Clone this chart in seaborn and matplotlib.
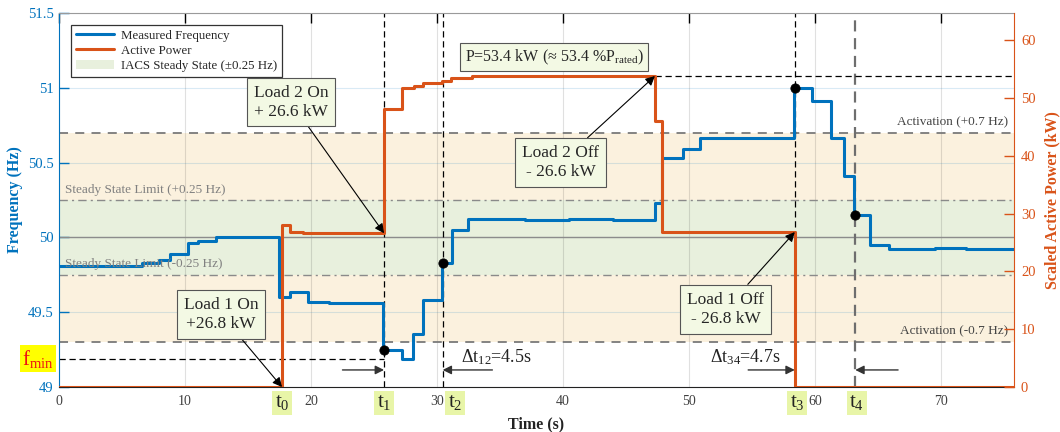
import numpy as np
import pandas as pd
import matplotlib
matplotlib.use("Agg")
import matplotlib.pyplot as plt
import matplotlib.transforms as mtransforms
import seaborn as sns
from matplotlib.lines import Line2D
from matplotlib.patches import Patch

# ---------------- data ----------------
freq_t = [0, 6.6, 7.9, 8.8, 10.2, 11.0, 12.5, 17.5, 18.3, 19.8, 21.4, 25.75, 27.2, 28.1, 28.9,
          30.4, 31.2, 32.5, 37.0, 40.5, 44.0, 47.3, 47.9, 49.5, 50.9, 58.35, 59.8, 61.3, 62.3,
          63.1, 64.4, 65.9, 69.5, 72.0, 75.8]
freq_hz = [49.81, 49.83, 49.85, 49.89, 49.96, 49.975, 50.005, 49.60, 49.635, 49.57, 49.56, 49.25,
           49.19, 49.355, 49.58, 49.83, 50.05, 50.12, 50.115, 50.12, 50.115, 50.23, 50.53, 50.59,
           50.665, 51.0, 50.915, 50.665, 50.41, 50.15, 49.95, 49.925, 49.93, 49.925, 49.925]

power_t = [0, 17.7, 18.3, 19.4, 21.0, 25.8, 27.2, 28.2, 28.9, 30.4, 31.1, 32.8, 47.3, 47.85, 58.4, 75.8]
power_kw = [0, 28.0, 26.9, 26.7, 26.6, 48.1, 51.7, 52.1, 52.6, 53.0, 53.5, 53.8, 46.0, 26.8, 0, 0]

event_t = [17.7, 25.8, 30.45, 58.4, 63.2]
event_labels = ["t$_0$", "t$_1$", "t$_2$", "t$_3$", "t$_4$"]
marker_t = [25.8, 30.45, 58.4, 63.2]
marker_hz = [49.25, 49.83, 51.0, 50.15]

f_nom = 50.0
steady_lim = 0.25
activation_lim = 0.7

x_ticks = [0, 10, 20, 30, 40, 50, 60, 70]
left_ticks = [49, 49.5, 50, 50.5, 51, 51.5]
left_tick_labels = ["49", "49.5", "50", "50.5", "51", "51.5"]
right_ticks = [0, 10, 20, 30, 40, 50, 60]

BLUE = "#0072BD"
ORANGE = "#D95319"
GREEN_BAND = "#E8F0DD"
ORANGE_BAND = "#FBF1DE"
BOX_FC = "#F3F9E4"
LIME = "#E8F5A8"

# ---------------- style ----------------
sns.set_style("white")
plt.rcParams["font.family"] = ["Liberation Serif", "DejaVu Serif"]
plt.rcParams["mathtext.fontset"] = "custom"
plt.rcParams["mathtext.rm"] = "Liberation Serif"
plt.rcParams["mathtext.it"] = "Liberation Serif:italic"

fig = plt.figure(figsize=(10.6, 4.32), dpi=100)
ax = fig.add_axes([59 / 1060, 45 / 432, 955 / 1060, 374 / 432])
ax2 = ax.twinx()
ax.set_axisbelow("line")

xmax = 75.8
ax.set_xlim(0, xmax)
ax.set_ylim(49, 51.5)
ax2.set_ylim(0, 64.7)

# bands
ax.axhspan(f_nom - activation_lim, f_nom + activation_lim, color=ORANGE_BAND, lw=0, zorder=0.3)
ax.axhspan(f_nom - steady_lim, f_nom + steady_lim, color=GREEN_BAND, lw=0, zorder=0.4)
ax.axhline(f_nom, color="#8c8c8c", lw=1.0, zorder=1.6)
for v in (f_nom + activation_lim, f_nom - activation_lim):
    ax.axhline(v, color="#7a7a7a", lw=1.3, ls=(0, (5, 4)), zorder=1.6)
for v in (f_nom + steady_lim, f_nom - steady_lim):
    ax.axhline(v, color="#8a8a8a", lw=1.0, ls=(0, (6, 3, 1.5, 3)), zorder=1.6)

# grid
ax.grid(True, axis="x", color="#000000", alpha=0.12, lw=0.8)
ax.grid(True, axis="y", color=BLUE, alpha=0.15, lw=0.8)

# event vertical lines
for t in event_t[1:4]:
    ax.axvline(t, color="k", lw=0.9, ls=(0, (5, 3)), zorder=2)
ax.axvline(event_t[4], color="#6e6e6e", lw=1.6, ls=(0, (5, 3)), zorder=2)

# fmin line
fmin = min(freq_hz)
ax.hlines(fmin, 0, event_t[1], color="k", lw=0.9, ls=(0, (5, 3)), zorder=2)

# frequency
sns.lineplot(x=freq_t, y=freq_hz, drawstyle="steps-post", color=BLUE, lw=2.2, ax=ax,
             legend=False, zorder=3)
sns.scatterplot(x=marker_t, y=marker_hz, color="k", s=45, edgecolor="k", ax=ax, zorder=6,
                legend=False)

# power
sns.lineplot(x=power_t, y=power_kw, drawstyle="steps-post", color=ORANGE, lw=2.2, ax=ax2,
             legend=False, zorder=3)
pmax = max(power_kw)
i_off = len(power_kw) - 1 - power_kw[::-1].index(pmax)
ax2.hlines(pmax, power_t[i_off + 1], xmax, color="k", lw=0.9, ls=(0, (5, 3)), zorder=2)

# axes cosmetics
ax.set_xticks(x_ticks)
ax.set_yticks(left_ticks)
ax.set_yticklabels(left_tick_labels)
ax2.set_yticks(right_ticks)
ax.tick_params(axis="x", direction="in", top=True, length=7, width=1, colors="k",
               labelcolor="#404040", labelsize=10, pad=6)
ax.tick_params(axis="y", direction="in", length=7, width=1, colors=BLUE, labelsize=10.5, pad=4)
ax2.tick_params(axis="y", direction="in", length=7, width=1, colors=ORANGE, labelsize=10.5, pad=5)
ax.spines["top"].set_color("#9a9a9a")
ax.spines["bottom"].set_color("#222222")
ax.spines["left"].set_color(BLUE)
ax2.spines["right"].set_color(ORANGE)
for s in ("top", "left", "bottom"):
    ax2.spines[s].set_visible(False)
ax.spines["right"].set_visible(False)

ax.set_xlabel("Time (s)", fontsize=11.5, fontweight="bold", color="#222222", labelpad=6)
ax.set_ylabel("Frequency (Hz)", fontsize=11.5, fontweight="bold", color=BLUE, labelpad=3)
ax2.set_ylabel("Scaled Active Power (kW)", fontsize=11.5, fontweight="bold", color=ORANGE,
               labelpad=6)

# band texts
ax.text(xmax - 0.5, f_nom + activation_lim + 0.03, "Activation (+0.7 Hz)", ha="right",
        va="bottom", fontsize=9.5, color="#444444", zorder=4)
ax.text(xmax - 0.5, f_nom - activation_lim + 0.03, "Activation (-0.7 Hz)", ha="right",
        va="bottom", fontsize=9.5, color="#444444", zorder=4)
ax.text(0.5, f_nom + steady_lim + 0.03, "Steady State Limit (+0.25 Hz)", ha="left",
        va="bottom", fontsize=9.5, color="#808080", zorder=4)
ax.text(0.5, f_nom - steady_lim + 0.03, "Steady State Limit (-0.25 Hz)", ha="left",
        va="bottom", fontsize=9.5, color="#808080", zorder=4)

# event labels under axis
trans = mtransforms.blended_transform_factory(ax.transData, ax.transAxes)
label_x = [event_t[0], event_t[1], event_t[2] + 1.0, event_t[3] + 0.2, event_t[4] + 0.1]
for xx, lab in zip(label_x, event_labels):
    ax.text(xx, -0.042, lab, transform=trans, ha="center", va="center", fontsize=15,
            color="#222222", bbox=dict(boxstyle="square,pad=0.12", fc=LIME, ec="none"),
            clip_on=False, zorder=10)

# f_min label
trans_y = mtransforms.blended_transform_factory(ax.transAxes, ax.transData)
ax.text(-0.022, fmin, "f$_{\\mathrm{min}}$", transform=trans_y, ha="center", va="center",
        fontsize=15, color="#EE1111", bbox=dict(boxstyle="square,pad=0.1", fc="#FFFF00", ec="none"),
        clip_on=False, zorder=10)

# annotations
box = dict(boxstyle="square,pad=0.4", fc=BOX_FC, ec="#555555", lw=0.8)
arrow = dict(arrowstyle="-|>", color="k", lw=0.8, mutation_scale=14, shrinkA=0, shrinkB=0)
ann_kw = dict(textcoords=ax.transData, ha="center", va="center", fontsize=12.5,
              linespacing=1.25, bbox=box, arrowprops=arrow, annotation_clip=False, zorder=8)
ax2.annotate("Load 1 On\n+26.8 kW", xy=(event_t[0], power_kw[0]), xytext=(12.86, 49.485), **ann_kw)
ax2.annotate("Load 2 On\n+ 26.6 kW", xy=(event_t[1], power_kw[4]), xytext=(18.4, 50.905), **ann_kw)
ax2.annotate("Load 2 Off\n- 26.6 kW", xy=(power_t[i_off + 1], pmax), xytext=(39.8, 50.5), **ann_kw)
ax2.annotate("Load 1 Off\n- 26.8 kW", xy=(event_t[3], power_kw[13]), xytext=(52.9, 49.52), **ann_kw)
ax.text(39.3, 51.206, "P=53.4 kW (\u2248 53.4 %P$_{\\mathrm{rated}}$)", ha="center",
        va="center", fontsize=11.5, bbox=dict(boxstyle="square,pad=0.3", fc=BOX_FC,
                                                ec="#555555", lw=0.8), zorder=8)

# delta-t arrows
arr2 = dict(arrowstyle="-|>", color="#333333", lw=1.0, mutation_scale=13, shrinkA=0, shrinkB=0)
y_arr = 49.114
ax.annotate("", xy=(event_t[1], y_arr), xytext=(22.5, y_arr), arrowprops=arr2)
ax.annotate("", xy=(event_t[2], y_arr), xytext=(34.4, y_arr), arrowprops=arr2)
ax.annotate("", xy=(event_t[3], y_arr), xytext=(54.7, y_arr), arrowprops=arr2)
ax.annotate("", xy=(event_t[4], y_arr), xytext=(66.6, y_arr), arrowprops=arr2)
ax.text(34.7, 49.2, "\u0394t$_{12}$=4.5s", ha="center", va="center", fontsize=13, color="#222222")
ax.text(54.5, 49.2, "\u0394t$_{34}$=4.7s", ha="center", va="center", fontsize=13, color="#222222")

# legend
handles = [Line2D([], [], color=BLUE, lw=2.2), Line2D([], [], color=ORANGE, lw=2.2),
           Patch(facecolor=GREEN_BAND, edgecolor="none")]
labels = ["Measured Frequency", "Active Power", "IACS Steady State (\u00b10.25 Hz)"]
leg = ax2.legend(handles, labels, loc="upper left", bbox_to_anchor=(0.0126, 0.968),
                 frameon=True, fancybox=False, edgecolor="#333333", framealpha=1,
                 fontsize=9.3, handlelength=3.0, borderpad=0.35, labelspacing=0.25,
                 handletextpad=0.5, borderaxespad=0)
leg.get_frame().set_linewidth(0.9)

fig.savefig("out.png", dpi=100)
